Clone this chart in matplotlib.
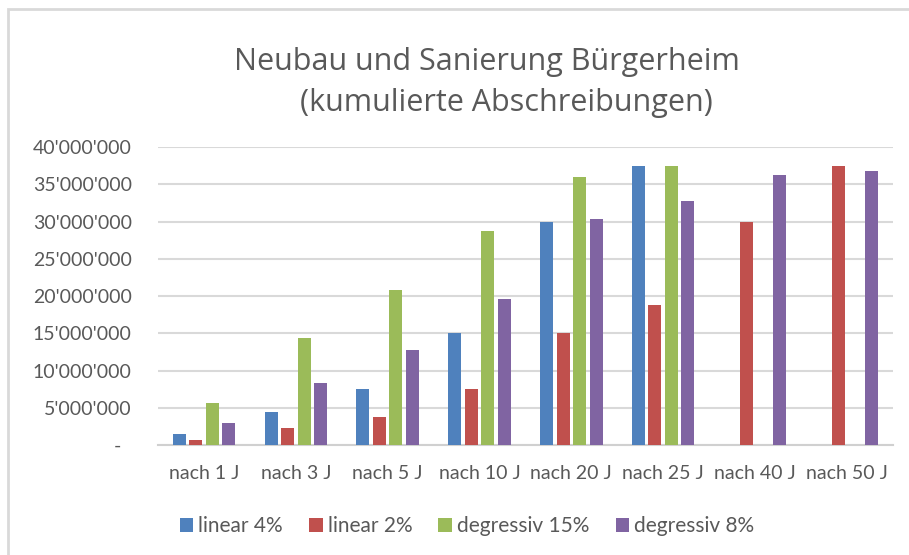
import numpy as np
import matplotlib
matplotlib.use('Agg')
import matplotlib.pyplot as plt
from matplotlib.ticker import FuncFormatter
from matplotlib.patches import Rectangle

# Kategorien und Werte (kumulierte Abschreibungen in CHF)
kategorien = ['nach 1 J', 'nach 3 J', 'nach 5 J', 'nach 10 J',
              'nach 20 J', 'nach 25 J', 'nach 40 J', 'nach 50 J']
linear_4 = [1500000, 4500000, 7500000, 15000000, 30000000, 37500000, np.nan, np.nan]
linear_2 = [750000, 2250000, 3750000, 7500000, 15000000, 18750000, 30000000, 37500000]
degressiv_15 = [5600000, 14400000, 20800000, 28800000, 36000000, 37500000, np.nan, np.nan]
degressiv_8 = [3000000, 8300000, 12800000, 19600000, 30400000, 32700000, 36200000, 36800000]

serien = ['linear 4%', 'linear 2%', 'degressiv 15%', 'degressiv 8%']
farben = ['#4F81BD', '#C0504D', '#9BBB59', '#8064A2']

plt.rcParams['font.family'] = ['Lato', 'DejaVu Sans']
grau = '#595959'

fig = plt.figure(figsize=(9.09, 5.55), dpi=100)
ax = fig.add_axes([0.174, 0.198, 0.808, 0.537])

x = np.arange(len(kategorien))
breite = 0.142
schritt = 0.18
for i, (werte, name, farbe) in enumerate(zip([linear_4, linear_2, degressiv_15, degressiv_8], serien, farben)):
    ax.bar(x + (i - 1.5) * schritt, werte, breite, color=farbe, label=name, zorder=3)

ax.set_xlim(-0.5, len(kategorien) - 0.5)
ax.set_ylim(0, 40000000)
ax.set_yticks(np.arange(0, 40000001, 5000000))

def fmt(v, pos):
    # Excel-Buchhaltungsformat: Null als Strich
    if v == 0:
        return '-  '
    return f"{int(v):,}".replace(',', "'")

ax.yaxis.set_major_formatter(FuncFormatter(fmt))
ax.set_xticks(x)
ax.set_xticklabels(kategorien)
ax.tick_params(axis='both', length=0, colors=grau, labelsize=14)
ax.tick_params(axis='x', pad=14)
ax.tick_params(axis='y', pad=19)

ax.grid(axis='y', color='#D9D9D9', linewidth=1.5, zorder=0)
for s in ['top', 'right', 'left']:
    ax.spines[s].set_visible(False)
ax.spines['bottom'].set_color('#D0D0D0')
ax.spines['bottom'].set_linewidth(1.5)

# Titel
fig.text(486.5 / 909, 1 - 70 / 555, 'Neubau und Sanierung Bürgerheim',
         ha='center', va='baseline', fontsize=22, color=grau, family='Open Sans')
fig.text(506.5 / 909, 1 - 111 / 555, '(kumulierte Abschreibungen)',
         ha='center', va='baseline', fontsize=22, color=grau, family='Open Sans')

# Legende
fig.legend(loc='center', bbox_to_anchor=(467 / 909, 1 - 526 / 555), ncol=4,
           frameon=False, fontsize=15, labelcolor=grau,
           handlelength=0.65, handleheight=0.65, handletextpad=0.25, columnspacing=1.25)

# Rahmen des Diagramms
fig.patches.append(Rectangle((8 / 909, -0.1), 1.2, 1 - 9 / 555 + 0.1,
                             transform=fig.transFigure, fill=False,
                             edgecolor='#D9D9D9', linewidth=2))

fig.savefig('out.png', dpi=100)
